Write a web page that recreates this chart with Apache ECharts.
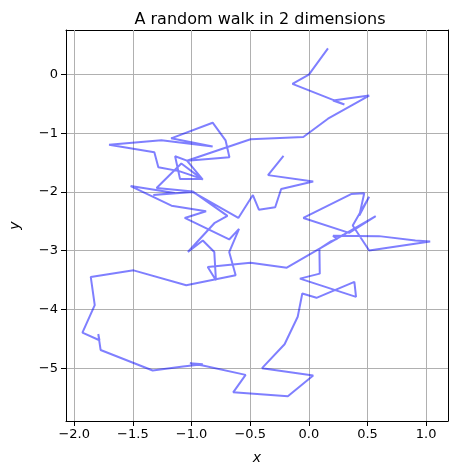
<!DOCTYPE html>
<html>
<head>
<meta charset="utf-8">
<script src="https://cdn.jsdelivr.net/npm/echarts@6/dist/echarts.min.js"></script>
<style>
  html, body { margin: 0; padding: 0; background: #fff; }
  #chart { width: 458px; height: 470px; }
</style>
</head>
<body>
<div id="chart"></div>
<script>
// walk positions (in plot order)
var walkX = [-0.216, -0.348, 0.037, -0.236, -0.287, -0.426, -0.477, -0.601, -0.988, -1.326,
  -1.143, -1.519, -1.171, -0.876, -1.058, -0.679, -0.595, -0.679, -0.624, -1.045,
  -1.494, -1.859, -1.825, -1.930, -1.785, -1.795, -1.775, -1.331, -1.073, -0.904,
  -1.014, -0.904, -0.539, -0.645, -0.179, 0.037, -0.399, -0.207, -0.095, -0.056,
  0.065, 0.388, 0.402, -0.076, 0.093, 0.090, 0.191, 0.242, 0.206, 0.598,
  0.908, 1.034, 0.514, 0.374, 0.514, 0.430, 0.472, 0.360, -0.047, 0.343,
  0.570, -0.188, -0.497, -0.862, -0.792, -0.806, -0.904, -1.031, -0.806, -0.694,
  -0.988, -1.298, -1.087, -0.904, -1.039, -1.140, -1.098, -0.904, -1.106, -1.283,
  -1.317, -1.703, -1.257, -0.820, -1.174, -0.820, -0.710, -0.677, -1.039, -0.497,
  -0.047, 0.163, 0.514, 0.206, 0.303, -0.140, 0.000, 0.163];
var walkY = [-1.385, -1.712, -1.819, -1.949, -2.259, -2.300, -2.051, -2.441, -2.000, -2.051,
  -2.017, -1.898, -2.232, -2.327, -2.441, -2.808, -2.627, -3.022, -3.419, -3.588,
  -3.334, -3.446, -3.927, -4.395, -4.525, -4.419, -4.690, -5.039, -4.971, -4.932,
  -4.915, -4.954, -5.114, -5.412, -5.480, -5.124, -5.000, -4.593, -4.124, -3.729,
  -3.802, -3.531, -3.785, -3.475, -3.390, -2.966, -2.836, -2.797, -2.746, -2.751,
  -2.825, -2.842, -2.995, -2.571, -2.080, -2.402, -2.022, -2.034, -2.441, -2.695,
  -2.412, -3.288, -3.203, -3.276, -3.503, -3.022, -2.825, -3.022, -2.531, -2.407,
  -1.992, -1.932, -1.514, -1.788, -1.466, -1.390, -1.780, -1.780, -1.644, -1.576,
  -1.322, -1.195, -1.119, -1.225, -1.085, -0.819, -1.119, -1.407, -1.466, -1.102,
  -1.063, -0.751, -0.356, -0.441, -0.508, -0.158, 0.000, 0.446];

var xTicks = [-2.0, -1.5, -1.0, -0.5, 0.0, 0.5, 1.0];
var yTicks = [0, -1, -2, -3, -4, -5];

var xMin = -2.07, xMax = 1.186;
var yMin = -5.9, yMax = 0.76;

var walk = [];
for (var i = 0; i < walkX.length; i++) {
  walk.push([walkX[i], walkY[i]]);
}

var chart = echarts.init(document.getElementById('chart'), null, { renderer: 'canvas' });

function minus(s) {
  return s.replace('-', '\u2212');
}

var frameLine = { show: true, onZero: false, lineStyle: { color: '#000', width: 1 } };

var option = {
  animation: false,
  backgroundColor: '#fff',
  title: {
    text: 'A random walk in 2 dimensions',
    left: 255,
    top: 7,
    textAlign: 'center',
    textStyle: { fontFamily: 'DejaVu Sans', fontSize: 16, fontWeight: 'normal', color: '#000' }
  },
  grid: { left: 62, right: 10, top: 30, bottom: 46 },
  xAxis: [{
    type: 'value',
    position: 'bottom',
    min: xMin, max: xMax,
    minInterval: 0.5, maxInterval: 0.5,
    name: 'x',
    nameLocation: 'middle',
    nameGap: 30,
    nameTextStyle: { fontFamily: 'DejaVu Sans', fontSize: 14, fontStyle: 'italic', color: '#000' },
    axisLine: frameLine,
    axisTick: { show: true, inside: false, length: 5, customValues: xTicks, lineStyle: { color: '#000', width: 1 } },
    axisLabel: {
      customValues: xTicks,
      margin: 7,
      fontFamily: 'DejaVu Sans', fontSize: 13, color: '#000',
      formatter: function (v) { return minus(v.toFixed(1)); }
    },
    splitLine: { show: true, lineStyle: { color: '#b0b0b0', width: 1 } },
    z: 1
  }, {
    type: 'value',
    position: 'top',
    min: xMin, max: xMax,
    axisLine: frameLine,
    axisTick: { show: false },
    axisLabel: { show: false },
    splitLine: { show: false }
  }],
  yAxis: [{
    type: 'value',
    position: 'left',
    min: yMin, max: yMax,
    minInterval: 1, maxInterval: 1,
    name: 'y',
    nameLocation: 'middle',
    nameGap: 44,
    nameTextStyle: { fontFamily: 'DejaVu Sans', fontSize: 14, fontStyle: 'italic', color: '#000' },
    axisLine: frameLine,
    axisTick: { show: true, inside: false, length: 5, customValues: yTicks, lineStyle: { color: '#000', width: 1 } },
    axisLabel: {
      customValues: yTicks,
      margin: 8,
      fontFamily: 'DejaVu Sans', fontSize: 13, color: '#000',
      formatter: function (v) { return minus(String(v)); }
    },
    splitLine: { show: true, lineStyle: { color: '#b0b0b0', width: 1 } }
  }, {
    type: 'value',
    position: 'right',
    min: yMin, max: yMax,
    axisLine: frameLine,
    axisTick: { show: false },
    axisLabel: { show: false },
    splitLine: { show: false }
  }],
  series: [{
    type: 'line',
    xAxisIndex: 0,
    yAxisIndex: 0,
    data: walk,
    symbol: 'none',
    smooth: false,
    lineStyle: { color: 'rgba(0,0,255,0.5)', width: 2 },
    z: 3
  }]
};

chart.setOption(option);
</script>
</body>
</html>
